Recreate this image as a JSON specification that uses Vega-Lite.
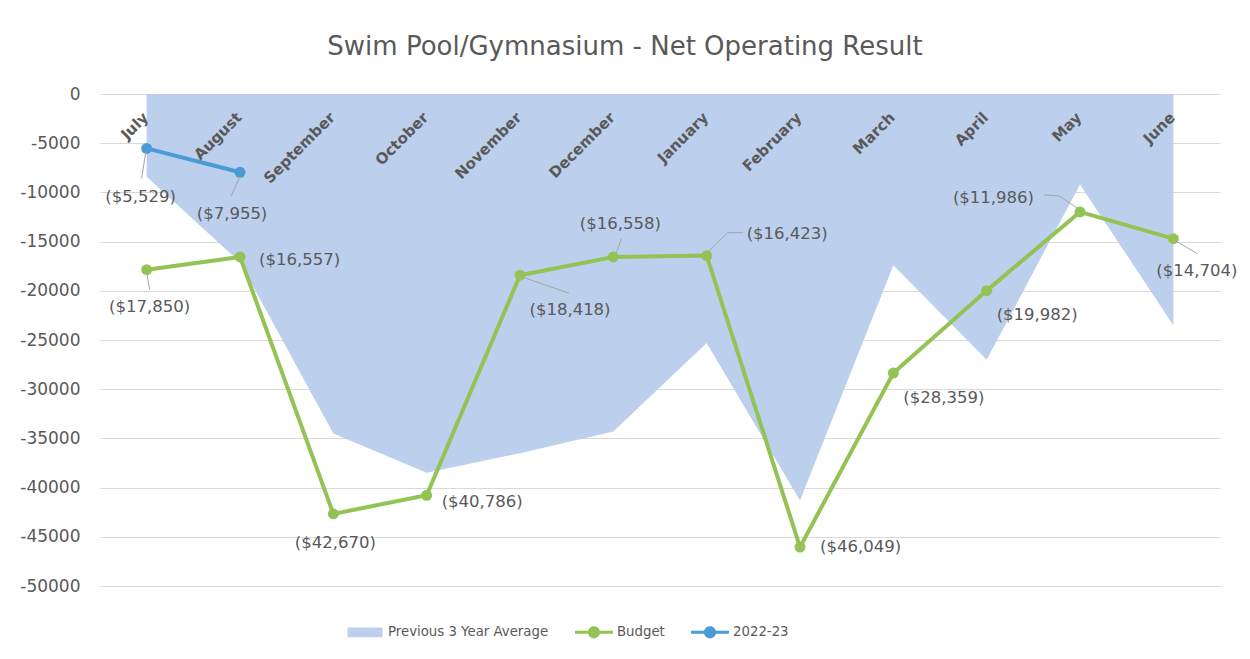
{
  "$schema": "https://vega.github.io/schema/vega-lite/v6.json",
  "width": 1120,
  "height": 492,
  "autosize": {"type": "none"},
  "padding": {"left": 100, "top": 94, "right": 30, "bottom": 73},
  "background": "white",
  "title": {"text": "Swim Pool/Gymnasium - Net Operating Result", "font": "DejaVu Sans", "fontSize": 26, "fontWeight": "normal", "color": "#595959", "anchor": "middle", "dx": -35, "offset": 25},
  "config": {"view": {"stroke": null}, "font": "DejaVu Sans"},
  "datasets": {
    "avg": [
      {"month": "July", "value": -8400}, {"month": "August", "value": -17100}, {"month": "September", "value": -34500},
      {"month": "October", "value": -38500}, {"month": "November", "value": -36500}, {"month": "December", "value": -34300},
      {"month": "January", "value": -25300}, {"month": "February", "value": -41300}, {"month": "March", "value": -17400},
      {"month": "April", "value": -27000}, {"month": "May", "value": -9200}, {"month": "June", "value": -23500}
    ],
    "budget": [
      {"month": "July", "value": -17850}, {"month": "August", "value": -16557}, {"month": "September", "value": -42670},
      {"month": "October", "value": -40786}, {"month": "November", "value": -18418}, {"month": "December", "value": -16558},
      {"month": "January", "value": -16423}, {"month": "February", "value": -46049}, {"month": "March", "value": -28359},
      {"month": "April", "value": -19982}, {"month": "May", "value": -11986}, {"month": "June", "value": -14704}
    ],
    "actual": [
      {"month": "July", "value": -5529}, {"month": "August", "value": -7955}
    ]
  },
  "encoding": {
    "x": {"field": "month", "type": "ordinal", "scale": {"type": "point", "padding": 0.5, "domain": ["July","August","September","October","November","December","January","February","March","April","May","June"]}, "axis": null},
    "y": {"field": "value", "type": "quantitative", "scale": {"domain": [-50000, 0], "nice": false, "zero": false},
      "axis": {"title": null, "values": [0,-5000,-10000,-15000,-20000,-25000,-30000,-35000,-40000,-45000,-50000],
        "labelExpr": "datum.value == 0 ? '0' : '-' + format(abs(datum.value), 'd')",
        "domain": false, "ticks": false, "labelPadding": 20, "labelFontSize": 17, "labelColor": "#595959", "labelFont": "DejaVu Sans",
        "grid": true, "gridColor": "#d9d9d9", "gridWidth": 1}}
  },
  "layer": [
    {"data": {"name": "avg"}, "mark": {"type": "area", "opacity": 1},
      "encoding": {"color": {"datum": "Previous 3 Year Average", "type": "nominal",
        "scale": {"domain": ["Previous 3 Year Average", "Budget", "2022-23"], "range": ["#bccfec", "#93c354", "#4a9bd6"]},
        "legend": {"orient": "none", "legendX": 246, "legendY": 519, "direction": "horizontal", "title": null, "padding": 0, "labelLimit": 0,
          "symbolSize": 1444, "labelFontSize": 13.3, "labelColor": "#595959", "labelFont": "DejaVu Sans", "labelOffset": 4, "columnPadding": 26,
          "encode": {"symbols": {"update": {
            "shape": {"signal": "datum.value === 'Previous 3 Year Average' ? 'M-0.92,-0.26L0.92,-0.26L0.92,0.26L-0.92,0.26Z' : 'M-1,-0.08L1,-0.08L1,0.08L-1,0.08Z M-0.32,0A0.32,0.32 0 1,1 0.32,0A0.32,0.32 0 1,1 -0.32,0Z'"},
            "fill": {"scale": "color", "field": "value"},
            "strokeWidth": {"value": 0},
            "opacity": {"value": 1}}}}}}}},
    {"data": {"name": "budget"}, "mark": {"type": "line", "strokeWidth": 4, "point": {"filled": true, "size": 120}},
      "encoding": {"color": {"datum": "Budget", "type": "nominal",
        "legend": {"orient": "none", "legendX": 246, "legendY": 519, "direction": "horizontal", "title": null, "padding": 0, "labelLimit": 0,
          "symbolSize": 1444, "labelFontSize": 13.3, "labelColor": "#595959", "labelFont": "DejaVu Sans", "labelOffset": 4, "columnPadding": 26,
          "encode": {"symbols": {"update": {
            "shape": {"signal": "datum.value === 'Previous 3 Year Average' ? 'M-0.92,-0.26L0.92,-0.26L0.92,0.26L-0.92,0.26Z' : 'M-1,-0.08L1,-0.08L1,0.08L-1,0.08Z M-0.32,0A0.32,0.32 0 1,1 0.32,0A0.32,0.32 0 1,1 -0.32,0Z'"},
            "fill": {"scale": "color", "field": "value"},
            "strokeWidth": {"value": 0},
            "opacity": {"value": 1}}}}}}}},
    {"data": {"name": "actual"}, "mark": {"type": "line", "strokeWidth": 4, "point": {"filled": true, "size": 120}},
      "encoding": {"color": {"datum": "2022-23", "type": "nominal",
        "legend": {"orient": "none", "legendX": 246, "legendY": 519, "direction": "horizontal", "title": null, "padding": 0, "labelLimit": 0,
          "symbolSize": 1444, "labelFontSize": 13.3, "labelColor": "#595959", "labelFont": "DejaVu Sans", "labelOffset": 4, "columnPadding": 26,
          "encode": {"symbols": {"update": {
            "shape": {"signal": "datum.value === 'Previous 3 Year Average' ? 'M-0.92,-0.26L0.92,-0.26L0.92,0.26L-0.92,0.26Z' : 'M-1,-0.08L1,-0.08L1,0.08L-1,0.08Z M-0.32,0A0.32,0.32 0 1,1 0.32,0A0.32,0.32 0 1,1 -0.32,0Z'"},
            "fill": {"scale": "color", "field": "value"},
            "strokeWidth": {"value": 0},
            "opacity": {"value": 1}}}}}}}},
    {"data": {"name": "budget"}, "mark": {"type": "text", "angle": -45, "align": "right", "baseline": "middle", "fontWeight": "bold", "fontSize": 15, "color": "#595959", "yOffset": 21, "xOffset": -1},
      "encoding": {"y": {"datum": 0}, "text": {"field": "month"}}},

    {"data": {"name": "budget"}, "transform": [{"filter": "datum.month === 'July'"}], "mark": {"type": "rule", "color": "#a6a6a6", "strokeWidth": 1, "yOffset": 3, "x2Offset": 3, "y2Offset": 20}, "encoding": {"x2": {"field": "month"}, "y2": {"field": "value"}}},
    {"data": {"name": "actual"}, "transform": [{"filter": "datum.month === 'July'"}], "mark": {"type": "rule", "color": "#a6a6a6", "strokeWidth": 1, "xOffset": -1, "yOffset": 4, "x2Offset": -5, "y2Offset": 30}, "encoding": {"x2": {"field": "month"}, "y2": {"field": "value"}}},
    {"data": {"name": "actual"}, "transform": [{"filter": "datum.month === 'August'"}], "mark": {"type": "rule", "color": "#a6a6a6", "strokeWidth": 1, "yOffset": 4, "x2Offset": -9, "y2Offset": 24}, "encoding": {"x2": {"field": "month"}, "y2": {"field": "value"}}},
    {"data": {"name": "budget"}, "transform": [{"filter": "datum.month === 'November'"}], "mark": {"type": "rule", "color": "#a6a6a6", "strokeWidth": 1, "xOffset": 3, "yOffset": 2, "x2Offset": 49, "y2Offset": 18}, "encoding": {"x2": {"field": "month"}, "y2": {"field": "value"}}},
    {"data": {"name": "budget"}, "transform": [{"filter": "datum.month === 'December'"}], "mark": {"type": "rule", "color": "#a6a6a6", "strokeWidth": 1, "xOffset": 3, "yOffset": -4, "x2Offset": 8, "y2Offset": -18}, "encoding": {"x2": {"field": "month"}, "y2": {"field": "value"}}},
    {"data": {"name": "budget"}, "transform": [{"filter": "datum.month === 'January'"}], "mark": {"type": "rule", "color": "#a6a6a6", "strokeWidth": 1, "xOffset": 1, "yOffset": -3, "x2Offset": 21, "y2Offset": -23}, "encoding": {"x2": {"field": "month"}, "y2": {"field": "value"}}},
    {"data": {"name": "budget"}, "transform": [{"filter": "datum.month === 'January'"}], "mark": {"type": "rule", "color": "#a6a6a6", "strokeWidth": 1, "xOffset": 21, "yOffset": -23, "x2Offset": 36, "y2Offset": -23}, "encoding": {"x2": {"field": "month"}, "y2": {"field": "value"}}},
    {"data": {"name": "budget"}, "transform": [{"filter": "datum.month === 'May'"}], "mark": {"type": "rule", "color": "#a6a6a6", "strokeWidth": 1, "xOffset": -3, "yOffset": -4, "x2Offset": -21, "y2Offset": -16}, "encoding": {"x2": {"field": "month"}, "y2": {"field": "value"}}},
    {"data": {"name": "budget"}, "transform": [{"filter": "datum.month === 'May'"}], "mark": {"type": "rule", "color": "#a6a6a6", "strokeWidth": 1, "xOffset": -21, "yOffset": -16, "x2Offset": -36, "y2Offset": -17}, "encoding": {"x2": {"field": "month"}, "y2": {"field": "value"}}},
    {"data": {"name": "budget"}, "transform": [{"filter": "datum.month === 'June'"}], "mark": {"type": "rule", "color": "#a6a6a6", "strokeWidth": 1, "xOffset": 2, "yOffset": 2, "x2Offset": 24, "y2Offset": 15}, "encoding": {"x2": {"field": "month"}, "y2": {"field": "value"}}},

    {"data": {"name": "budget"}, "transform": [{"filter": "datum.month === 'July'"}], "mark": {"type": "text", "align": "center", "baseline": "middle", "dx": 3, "dy": 37, "fontSize": 16.5, "color": "#595959"}, "encoding": {"text": {"field": "value", "type": "quantitative", "format": "($,.0f"}}},
    {"data": {"name": "budget"}, "transform": [{"filter": "datum.month === 'August'"}], "mark": {"type": "text", "align": "left", "baseline": "middle", "dx": 19, "dy": 3, "fontSize": 16.5, "color": "#595959"}, "encoding": {"text": {"field": "value", "type": "quantitative", "format": "($,.0f"}}},
    {"data": {"name": "budget"}, "transform": [{"filter": "datum.month === 'September'"}], "mark": {"type": "text", "align": "center", "baseline": "middle", "dx": 2, "dy": 29, "fontSize": 16.5, "color": "#595959"}, "encoding": {"text": {"field": "value", "type": "quantitative", "format": "($,.0f"}}},
    {"data": {"name": "budget"}, "transform": [{"filter": "datum.month === 'October'"}], "mark": {"type": "text", "align": "left", "baseline": "middle", "dx": 15, "dy": 7, "fontSize": 16.5, "color": "#595959"}, "encoding": {"text": {"field": "value", "type": "quantitative", "format": "($,.0f"}}},
    {"data": {"name": "budget"}, "transform": [{"filter": "datum.month === 'November'"}], "mark": {"type": "text", "align": "center", "baseline": "middle", "dx": 50, "dy": 35, "fontSize": 16.5, "color": "#595959"}, "encoding": {"text": {"field": "value", "type": "quantitative", "format": "($,.0f"}}},
    {"data": {"name": "budget"}, "transform": [{"filter": "datum.month === 'December'"}], "mark": {"type": "text", "align": "center", "baseline": "middle", "dx": 7, "dy": -33, "fontSize": 16.5, "color": "#595959"}, "encoding": {"text": {"field": "value", "type": "quantitative", "format": "($,.0f"}}},
    {"data": {"name": "budget"}, "transform": [{"filter": "datum.month === 'January'"}], "mark": {"type": "text", "align": "left", "baseline": "middle", "dx": 40, "dy": -22, "fontSize": 16.5, "color": "#595959"}, "encoding": {"text": {"field": "value", "type": "quantitative", "format": "($,.0f"}}},
    {"data": {"name": "budget"}, "transform": [{"filter": "datum.month === 'February'"}], "mark": {"type": "text", "align": "left", "baseline": "middle", "dx": 20, "dy": 0, "fontSize": 16.5, "color": "#595959"}, "encoding": {"text": {"field": "value", "type": "quantitative", "format": "($,.0f"}}},
    {"data": {"name": "budget"}, "transform": [{"filter": "datum.month === 'March'"}], "mark": {"type": "text", "align": "left", "baseline": "middle", "dx": 10, "dy": 25, "fontSize": 16.5, "color": "#595959"}, "encoding": {"text": {"field": "value", "type": "quantitative", "format": "($,.0f"}}},
    {"data": {"name": "budget"}, "transform": [{"filter": "datum.month === 'April'"}], "mark": {"type": "text", "align": "left", "baseline": "middle", "dx": 10, "dy": 24, "fontSize": 16.5, "color": "#595959"}, "encoding": {"text": {"field": "value", "type": "quantitative", "format": "($,.0f"}}},
    {"data": {"name": "budget"}, "transform": [{"filter": "datum.month === 'May'"}], "mark": {"type": "text", "align": "right", "baseline": "middle", "dx": -46, "dy": -14, "fontSize": 16.5, "color": "#595959"}, "encoding": {"text": {"field": "value", "type": "quantitative", "format": "($,.0f"}}},
    {"data": {"name": "budget"}, "transform": [{"filter": "datum.month === 'June'"}], "mark": {"type": "text", "align": "left", "baseline": "middle", "dx": -17, "dy": 32, "fontSize": 16.5, "color": "#595959"}, "encoding": {"text": {"field": "value", "type": "quantitative", "format": "($,.0f"}}},
    {"data": {"name": "actual"}, "transform": [{"filter": "datum.month === 'July'"}], "mark": {"type": "text", "align": "center", "baseline": "middle", "dx": -6, "dy": 49, "fontSize": 16.5, "color": "#595959"}, "encoding": {"text": {"field": "value", "type": "quantitative", "format": "($,.0f"}}},
    {"data": {"name": "actual"}, "transform": [{"filter": "datum.month === 'August'"}], "mark": {"type": "text", "align": "center", "baseline": "middle", "dx": -8, "dy": 42, "fontSize": 16.5, "color": "#595959"}, "encoding": {"text": {"field": "value", "type": "quantitative", "format": "($,.0f"}}}
  ]
}
